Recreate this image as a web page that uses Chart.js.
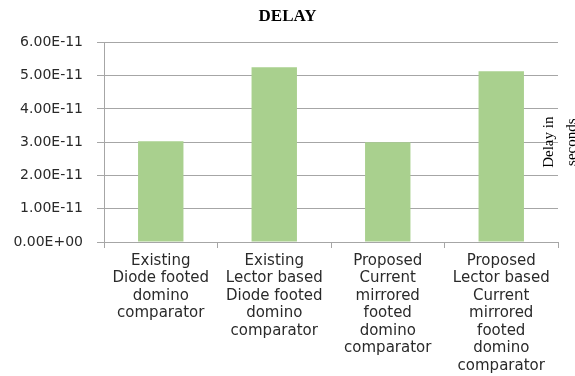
<!DOCTYPE html>
<html lang="en">
<head>
    <meta charset="UTF-8">
    <title>Delay</title>
    <script src="https://cdn.jsdelivr.net/npm/chart.js"></script>
    <style>
        html, body { margin: 0; padding: 0; background: #fff; }
        #wrap { width: 575px; height: 376px; position: relative; }
    </style>
</head>
<body>
    <div id="wrap"><canvas id="delayChart"></canvas></div>

    <script>
        const categories = [
            ['Existing', 'Diode footed', 'domino', 'comparator'],
            ['Existing', 'Lector based', 'Diode footed', 'domino', 'comparator'],
            ['Proposed', 'Current', 'mirrored', 'footed', 'domino', 'comparator'],
            ['Proposed', 'Lector based', 'Current', 'mirrored', 'footed', 'domino', 'comparator']
        ];
        const delays = [3.03e-11, 5.25e-11, 3.0e-11, 5.13e-11];
        const yTickLabels = ['0.00E+00', '1.00E-11', '2.00E-11', '3.00E-11', '4.00E-11', '5.00E-11', '6.00E-11'];
        const axisTitle = ['Delay in', 'seconds'];

        const gridGray = '#a6a6a6';

        // rotated axis title sitting over the right edge of the plot
        const sideTitle = {
            id: 'sideTitle',
            afterDraw(chart) {
                const ctx = chart.ctx;
                const cy = (chart.chartArea.top + chart.chartArea.bottom) / 2;
                ctx.save();
                ctx.translate(549, cy);
                ctx.rotate(-Math.PI / 2);
                ctx.font = '15px "Liberation Serif", "Times New Roman", serif';
                ctx.fillStyle = '#000';
                ctx.textAlign = 'center';
                ctx.textBaseline = 'middle';
                axisTitle.forEach((line, i) => ctx.fillText(line, 0, i * 23));
                ctx.restore();
            }
        };

        Chart.defaults.color = '#2a2a2a';
        Chart.defaults.font.family = '"DejaVu Sans", Verdana, sans-serif';

        new Chart(document.getElementById('delayChart'), {
            type: 'bar',
            data: {
                labels: categories,
                datasets: [{
                    label: 'Delay',
                    data: delays,
                    backgroundColor: '#a9d08e',
                    borderWidth: 0,
                    barPercentage: 0.4,
                    categoryPercentage: 1.0
                }]
            },
            options: {
                responsive: true,
                maintainAspectRatio: false,
                animation: false,
                layout: { padding: { top: 2, right: 0, left: 0, bottom: 0 } },
                plugins: {
                    legend: { display: false },
                    tooltip: { enabled: false },
                    title: {
                        display: true,
                        text: 'DELAY',
                        color: '#000',
                        font: { family: '"Liberation Serif", "Times New Roman", serif', size: 17, weight: 'bold' },
                        padding: { top: 4, bottom: 16 }
                    }
                },
                scales: {
                    x: {
                        grid: {
                            offset: true,
                            drawOnChartArea: false,
                            drawTicks: true,
                            tickLength: 6,
                            color: gridGray
                        },
                        border: { color: gridGray },
                        ticks: {
                            maxRotation: 0,
                            autoSkip: false,
                            padding: 4,
                            font: { size: 15, lineHeight: 1.17 }
                        },
                        afterFit(scale) { scale.height = 134; }
                    },
                    y: {
                        min: 0,
                        max: 6e-11,
                        grid: { color: gridGray, tickLength: 7 },
                        border: { color: gridGray },
                        ticks: {
                            stepSize: 1e-11,
                            padding: 14,
                            font: { size: 14 },
                            callback: (value, index) => yTickLabels[index]
                        },
                        afterFit(scale) { scale.width = 104; }
                    },
                    // empty strip on the right, keeps the plot clear of the canvas edge
                    pad: {
                        position: 'right',
                        grid: { display: false },
                        border: { display: false },
                        ticks: { display: false },
                        afterFit(scale) { scale.width = 17; }
                    }
                }
            },
            plugins: [sideTitle]
        });
    </script>
</body>
</html>
